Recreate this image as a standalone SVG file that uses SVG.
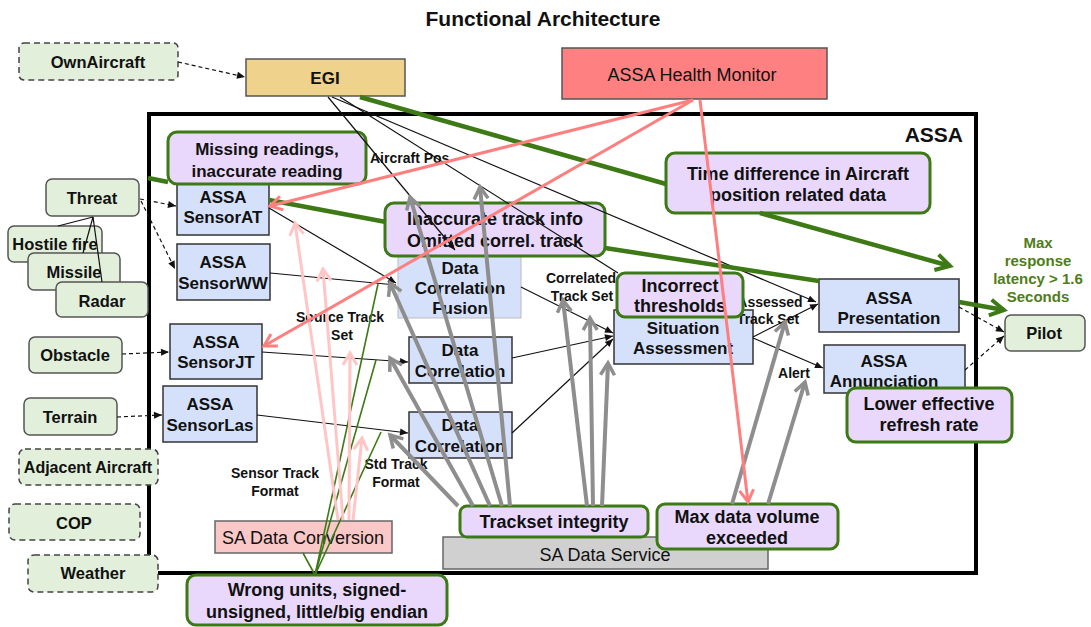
<svg xmlns="http://www.w3.org/2000/svg" width="1091" height="627" viewBox="0 0 1091 627">
<style>
text{font-family:"Liberation Sans",Arial,sans-serif;fill:#111;text-anchor:middle}
.b{font-weight:bold}
.nt{font-weight:bold;font-size:17px}
.gt{font-weight:bold;font-size:16.5px}
.ct{font-weight:bold;font-size:18px}
.lt{font-weight:bold;font-size:14px}
.rt{font-size:18px}
.mx{font-weight:bold;font-size:15px;fill:#4e7d19}
.gn{fill:#e2efda;stroke:#555;stroke-width:1.5}
.gd{fill:#e2efda;stroke:#444;stroke-width:1.5;stroke-dasharray:6 4}
.bn{fill:#d5e1fb;stroke:#333;stroke-width:1.5}
.co{fill:#e9d8fb;stroke:#3d7a16;stroke-width:3}
.k{stroke:#111;stroke-width:1.2;fill:none;marker-end:url(#tri)}
.kd{stroke:#111;stroke-width:1.2;fill:none;stroke-dasharray:4 3;marker-end:url(#tri)}
.kl{stroke:#111;stroke-width:1.2;fill:none}
.g{stroke:#8e8e8e;stroke-width:4;fill:none;marker-end:url(#cg)}
.p{stroke:#ff7f7f;stroke-width:3;fill:none;marker-end:url(#cp)}
.lp{stroke:#ffc6c6;stroke-width:3;fill:none;marker-end:url(#clp)}
.gr{stroke:#3d7a16;stroke-width:4.5;fill:none}
.gra{stroke:#3d7a16;stroke-width:4.5;fill:none;marker-end:url(#cgr)}
.gth{stroke:#3d7a16;stroke-width:1.6;fill:none}
</style>
<defs>
<marker id="tri" markerUnits="userSpaceOnUse" markerWidth="10" markerHeight="8" refX="8" refY="3.5" orient="auto" overflow="visible"><path d="M0,0 L8,3.5 L0,7 z" fill="#111"/></marker>
<marker id="cg" markerUnits="userSpaceOnUse" markerWidth="16" markerHeight="16" refX="13" refY="7" orient="auto" overflow="visible"><polyline points="1,0 13,7 1,14" fill="none" stroke="#8e8e8e" stroke-width="3.5"/></marker>
<marker id="cp" markerUnits="userSpaceOnUse" markerWidth="16" markerHeight="16" refX="13" refY="7" orient="auto" overflow="visible"><polyline points="1,0 13,7 1,14" fill="none" stroke="#ff7f7f" stroke-width="3"/></marker>
<marker id="clp" markerUnits="userSpaceOnUse" markerWidth="16" markerHeight="16" refX="13" refY="7" orient="auto" overflow="visible"><polyline points="1,0 13,7 1,14" fill="none" stroke="#ffc6c6" stroke-width="3"/></marker>
<marker id="cgr" markerUnits="userSpaceOnUse" markerWidth="18" markerHeight="18" refX="15" refY="8" orient="auto" overflow="visible"><polyline points="1,0 15,8 1,16" fill="none" stroke="#3d7a16" stroke-width="4"/></marker>
</defs>
<rect width="1091" height="627" fill="#fff"/>
<text x="543" y="26" class="b" font-size="21">Functional Architecture</text>

<g id="assa">
<rect x="149" y="114" width="827" height="459" fill="none" stroke="#000" stroke-width="4"/>
<text x="963" y="142" class="b" font-size="21" style="text-anchor:end">ASSA</text>
</g>

<g id="ownaircraft"><rect class="gd" x="19" y="43" width="159" height="37" rx="5"/><text class="gt" x="98" y="68">OwnAircraft</text></g>
<g id="egi"><rect x="246" y="59" width="159" height="37" fill="#efd28c" stroke="#555" stroke-width="1.5"/><text class="nt" x="325" y="84">EGI</text></g>
<g id="healthmonitor"><rect x="562" y="48" width="265" height="51" fill="#ff8080" stroke="#555" stroke-width="1.5"/><text class="rt" x="692" y="81">ASSA Health Monitor</text></g>

<g id="threat"><rect class="gn" x="46" y="179" width="93" height="37" rx="6"/><text class="gt" x="92" y="204">Threat</text></g>
<g id="hostilefire"><rect class="gn" x="8" y="226" width="94" height="36" rx="6"/><text class="gt" x="55" y="250">Hostile fire</text></g>
<g id="missile"><rect class="gn" x="28" y="253" width="92" height="37" rx="6"/><text class="gt" x="74" y="278">Missile</text></g>
<g id="radar"><rect class="gn" x="56" y="282" width="92" height="35" rx="6"/><text class="gt" x="102" y="307">Radar</text></g>
<g id="obstacle"><rect class="gn" x="29" y="337" width="93" height="36" rx="6"/><text class="gt" x="75" y="361">Obstacle</text></g>
<g id="terrain"><rect class="gn" x="24" y="398" width="93" height="37" rx="6"/><text class="gt" x="70" y="423">Terrain</text></g>
<g id="adjacentaircraft"><rect class="gd" x="19" y="449" width="139" height="36" rx="6"/><text class="b" font-size="16" x="88" y="473">Adjacent Aircraft</text></g>
<g id="cop"><rect class="gd" x="9" y="504" width="131" height="36" rx="6"/><text class="gt" x="74" y="529">COP</text></g>
<g id="weather"><rect class="gd" x="28" y="555" width="130" height="37" rx="6"/><text class="gt" x="93" y="579">Weather</text></g>

<g id="sensorat"><rect class="bn" x="177" y="184" width="92" height="51"/><text class="nt" x="223" y="203">ASSA</text><text class="nt" x="223" y="223">SensorAT</text></g>
<g id="sensorww"><rect class="bn" x="177" y="244" width="93" height="56"/><text class="nt" x="223" y="268">ASSA</text><text class="nt" x="223" y="289">SensorWW</text></g>
<g id="sensorjt"><rect class="bn" x="170" y="324" width="92" height="55"/><text class="nt" x="216" y="348">ASSA</text><text class="nt" x="216" y="368">SensorJT</text></g>
<g id="sensorlas"><rect class="bn" x="163" y="386" width="94" height="56"/><text class="nt" x="210" y="410">ASSA</text><text class="nt" x="210" y="431">SensorLas</text></g>

<g id="dcfusion"><rect x="398" y="254" width="123" height="64" fill="#d5e1fb" stroke="#bbb" stroke-width="1"/><text class="nt" x="460" y="274">Data</text><text class="nt" x="460" y="294">Correlation</text><text class="nt" x="460" y="314">Fusion</text></g>
<g id="datacorrelation1"><rect class="bn" x="409" y="337" width="103" height="46"/><text class="nt" x="460" y="356">Data</text><text class="nt" x="460" y="377">Correlation</text></g>
<g id="datacorrelation2"><rect class="bn" x="409" y="412" width="103" height="46"/><text class="nt" x="460" y="431">Data</text><text class="nt" x="460" y="452">Correlation</text></g>
<g id="situationassessment"><rect class="bn" x="614" y="310" width="139" height="54"/><text class="nt" x="683" y="334">Situation</text><text class="nt" x="683" y="354">Assessment</text></g>
<g id="presentation"><rect class="bn" x="819" y="279" width="140" height="53"/><text class="nt" x="889" y="304">ASSA</text><text class="nt" x="889" y="324">Presentation</text></g>
<g id="annunciation"><rect class="bn" x="824" y="345" width="141" height="48"/><text class="nt" x="884" y="367">ASSA</text><text class="nt" x="884" y="387">Annunciation</text></g>
<g id="pilot"><rect class="gn" x="1005" y="315" width="80" height="36" rx="6"/><text class="gt" x="1044" y="339">Pilot</text></g>

<g id="sadataservice"><rect x="443" y="537" width="325" height="32" fill="#d0d0d0" stroke="#666" stroke-width="1.5"/><text class="rt" x="605" y="561">SA Data Service</text></g>
<g id="sadataconversion"><rect x="215" y="521" width="177" height="32" fill="#fbc8c8" stroke="#666" stroke-width="1.5"/><text class="rt" x="303" y="544">SA Data Conversion</text></g>

<g id="labels">
<text class="lt" x="370" y="163" style="text-anchor:start">Aircraft Pos</text>
<text class="lt" x="340" y="322">Source Track</text><text class="lt" x="342" y="340">Set</text>
<text class="lt" x="275" y="478">Sensor Track</text><text class="lt" x="275" y="496">Format</text>
<text class="lt" x="396" y="469">Std Track</text><text class="lt" x="396" y="487">Format</text>
<text class="lt" x="581" y="283">Correlated</text><text class="lt" x="582" y="301">Track Set</text>
<text class="lt" x="770" y="307">Assessed</text><text class="lt" x="768" y="324">Track Set</text>
<text class="lt" x="794" y="378">Alert</text>
<text class="mx" x="1038" y="248">Max</text>
<text class="mx" x="1038" y="266">response</text>
<text class="mx" x="1038" y="284">latency &gt; 1.6</text>
<text class="mx" x="1038" y="302">Seconds</text>
</g>

<g id="callout-missing"><rect class="co" x="168" y="132" width="198" height="52" rx="9"/><text class="nt" x="267" y="155">Missing readings,</text><text class="nt" x="267" y="177">inaccurate reading</text></g>
<g id="callout-timediff"><rect class="co" x="666" y="153" width="264" height="60" rx="9"/><text class="ct" x="798" y="180">Time difference in Aircraft</text><text class="ct" x="798" y="201">position related data</text></g>
<g id="callout-inaccurate"><rect class="co" x="385" y="203" width="220" height="53" rx="9"/><text class="ct" x="495" y="225">Inaccurate track info</text><text class="ct" x="495" y="247">Omitted correl. track</text></g>
<g id="callout-thresholds"><rect class="co" x="617" y="273" width="126" height="44" rx="8"/><text class="ct" x="680" y="292">Incorrect</text><text class="ct" x="680" y="312">thresholds</text></g>
<g id="callout-refresh"><rect class="co" x="847" y="388" width="165" height="54" rx="9"/><text class="ct" x="929" y="410">Lower effective</text><text class="ct" x="929" y="431">refresh rate</text></g>
<g id="callout-trackset"><rect class="co" x="460" y="506" width="188" height="31" rx="7"/><text class="ct" x="554" y="528">Trackset integrity</text></g>
<g id="callout-volume"><rect class="co" x="657" y="504" width="181" height="45" rx="8"/><text class="ct" x="747" y="523">Max data volume</text><text class="ct" x="747" y="544">exceeded</text></g>
<g id="callout-units"><rect class="co" x="187" y="575" width="260" height="50" rx="9"/><text class="ct" x="317" y="596">Wrong units, signed-</text><text class="ct" x="317" y="618">unsigned, little/big endian</text></g>

<g id="connectors">
<line class="kd" x1="178" y1="62" x2="245" y2="77"/>
<line class="kd" x1="140" y1="199" x2="176" y2="206"/>
<line class="kd" x1="141" y1="201" x2="175" y2="269"/>
<line class="kd" x1="122" y1="354" x2="169" y2="352"/>
<line class="kd" x1="117" y1="417" x2="162" y2="415"/>
<line class="kl" x1="93" y1="217" x2="58" y2="226"/>
<line class="kl" x1="93" y1="217" x2="83" y2="253"/>
<line class="kl" x1="93" y1="217" x2="102" y2="282"/>
<line class="k" x1="269" y1="208" x2="396" y2="283"/>
<line class="k" x1="270" y1="273" x2="396" y2="285"/>
<line class="k" x1="262" y1="352" x2="408" y2="362"/>
<line class="k" x1="257" y1="415" x2="408" y2="433"/>
<line class="k" x1="521" y1="287" x2="613" y2="333"/>
<line class="k" x1="512" y1="358" x2="613" y2="336"/>
<line class="k" x1="512" y1="433" x2="613" y2="339"/>
<line class="k" x1="753" y1="337" x2="818" y2="304"/>
<line class="k" x1="753" y1="338" x2="823" y2="368"/>
<line class="kd" x1="959" y1="307" x2="1004" y2="332"/>
<line class="kd" x1="965" y1="370" x2="1004" y2="336"/>
<line class="k" x1="328" y1="97" x2="455" y2="250"/>
<line class="kl" x1="340" y1="97" x2="618" y2="273"/>
<line class="k" x1="332" y1="97" x2="816" y2="302"/>

<line class="gr" x1="148" y1="178" x2="168" y2="182"/>
<line class="gr" x1="269" y1="200" x2="386" y2="222"/>
<line class="gr" x1="605" y1="248" x2="819" y2="281"/>
<line class="gr" x1="360" y1="97" x2="666" y2="184"/>
<line class="gra" x1="760" y1="213" x2="950" y2="266"/>
<line class="gra" x1="959" y1="302" x2="1004" y2="310"/>

<line class="gth" x1="315" y1="575" x2="303" y2="553"/>
<line class="gth" x1="315" y1="575" x2="378" y2="284"/>
<line class="gth" x1="315" y1="575" x2="376" y2="360"/>
<line class="gth" x1="315" y1="575" x2="381" y2="432"/>

<line class="lp" x1="338" y1="520" x2="295" y2="223"/>
<line class="lp" x1="343" y1="520" x2="323" y2="269"/>
<line class="lp" x1="349" y1="520" x2="350" y2="353"/>
<line class="lp" x1="353" y1="520" x2="362" y2="438"/>

<line class="g" x1="458" y1="506" x2="390" y2="435"/>
<line class="g" x1="473" y1="506" x2="390" y2="358"/>
<line class="g" x1="490" y1="506" x2="390" y2="283"/>
<line class="g" x1="502" y1="506" x2="410" y2="197"/>
<line class="g" x1="510" y1="506" x2="480" y2="187"/>
<line class="g" x1="587" y1="506" x2="563" y2="300"/>
<line class="g" x1="593" y1="506" x2="590" y2="318"/>
<line class="g" x1="602" y1="506" x2="608" y2="363"/>
<line class="g" x1="732" y1="504" x2="785" y2="322"/>
<line class="g" x1="768" y1="504" x2="805" y2="382"/>

<line class="p" x1="693" y1="100" x2="270" y2="206"/>
<line class="p" x1="693" y1="100" x2="264" y2="346"/>
<line class="p" x1="700" y1="100" x2="748" y2="502"/>
</g>
</svg>
